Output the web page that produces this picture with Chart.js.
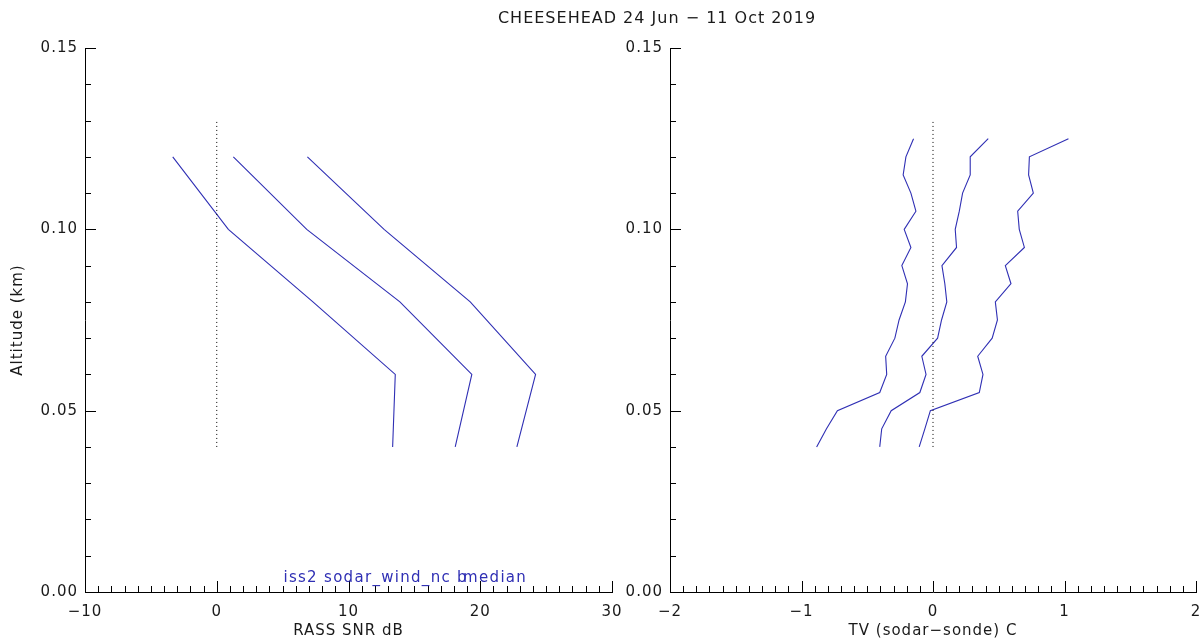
<!DOCTYPE html>
<html><head><meta charset="utf-8">
<script src="https://cdn.jsdelivr.net/npm/chart.js@4.4.1/dist/chart.umd.min.js"></script>
<style>
html,body{margin:0;padding:0;background:#fff;}
#wrap{position:relative;width:1203px;height:641px;background:#fff;}
canvas{position:absolute;left:0;top:0;}
</style></head><body>
<div id="wrap"><canvas id="c1" width="1203" height="641"></canvas><canvas id="c2" width="1203" height="641"></canvas></div>
<script>
// ---------- data ----------
const figTitle = 'CHEESEHEAD 24 Jun \u2212 11 Oct 2019';
const leftXTitle = 'RASS SNR dB';
const rightXTitle = 'TV (sodar\u2212sonde) C';
const yTitle = 'Altitude (km)';
const noteText1 = 'iss2 sodar_wind_nc b';
const noteText2 = 'median';

const snrAlt = [0.12, 0.10, 0.08, 0.06, 0.04];
const snrLow = [-3.34, 0.88, 7.3, 13.55, 13.35];
const snrMid = [1.26, 6.83, 13.9, 19.36, 18.1];
const snrHigh = [6.88, 12.7, 19.24, 24.2, 22.78];

const tvAlt = [0.125, 0.12, 0.115, 0.11, 0.105, 0.10, 0.095, 0.09, 0.085, 0.08, 0.075, 0.07, 0.065, 0.06, 0.055, 0.05, 0.045, 0.04];
const tvLow = [-0.148, -0.206, -0.227, -0.168, -0.130, -0.219, -0.168, -0.237, -0.194, -0.21, -0.258, -0.29, -0.36, -0.352, -0.405, -0.727, -0.81, -0.885];
const tvMid = [0.42, 0.283, 0.283, 0.225, 0.20, 0.169, 0.179, 0.068, 0.09, 0.105, 0.065, 0.035, -0.085, -0.053, -0.10, -0.318, -0.39, -0.405];
const tvHigh = [1.03, 0.733, 0.727, 0.763, 0.644, 0.656, 0.695, 0.55, 0.593, 0.474, 0.49, 0.45, 0.34, 0.38, 0.352, -0.02, -0.062, -0.105];

const zeroAlt = [0.04, 0.13];
const zeroVal = [0, 0];

const leftXTicks = [-10, 0, 10, 20, 30];
const rightXTicks = [-2, -1, 0, 1, 2];
const yTicks = [0.00, 0.05, 0.10, 0.15];

// ---------- helpers ----------
const LINE = '#2f2fb4';
const TEXT = '#1a1a1a';
const FONT = "'DejaVu Sans', sans-serif";
function pts(xs, ys){ return xs.map((v,i)=>({x:v, y:ys[i]})); }
function fmtX(v){ return v < 0 ? '\u2212' + Math.abs(v) : String(v); }

const spacing = {
  id:'spacing',
  beforeLayout(chart){ chart.ctx.letterSpacing = '1px'; },
  beforeDraw(chart){ chart.ctx.letterSpacing = '1px'; }
};

const inwardTicks = {
  id:'inwardTicks',
  afterDatasetsDraw(chart, args, o){
    const {ctx, chartArea:a, scales:{x, y}} = chart;
    ctx.save();
    ctx.strokeStyle = '#000'; ctx.lineWidth = 1;
    ctx.beginPath();
    for (let i = 0; i <= o.yCount; i++){
      const py = Math.round(y.getPixelForValue(y.min + i * o.yStep)) + 0.5;
      const len = (i % o.yMajor === 0) ? 11 : 6;
      ctx.moveTo(a.left, py); ctx.lineTo(a.left + len, py);
    }
    for (let i = 0; i <= o.xCount; i++){
      const px = Math.round(x.getPixelForValue(x.min + i * o.xStep)) + 0.5;
      const len = (i % o.xMajor === 0) ? 11 : 6;
      ctx.moveTo(px, a.bottom); ctx.lineTo(px, a.bottom - len);
    }
    ctx.stroke();
    ctx.restore();
  }
};

const texts = {
  id:'texts',
  afterDraw(chart, args, o){
    const {ctx, scales:{x, y}} = chart;
    ctx.save();
    (o.items || []).forEach(t => {
      ctx.letterSpacing = t.spacing || '1px';
      ctx.font = t.font;
      ctx.fillStyle = t.color;
      ctx.textAlign = t.align || 'left';
      ctx.textBaseline = t.baseline || 'alphabetic';
      const px = t.px !== undefined ? t.px : x.getPixelForValue(t.x);
      const py = t.py !== undefined ? t.py : y.getPixelForValue(t.y);
      ctx.fillText(t.text, px, py);
    });
    ctx.restore();
  }
};

function makeOptions(cfg){
  return {
    responsive:false, animation:false, devicePixelRatio:1,
    layout:{padding:{left:0, right:cfg.padRight, top:48, bottom:0}},
    plugins:{
      legend:{display:false}, tooltip:{enabled:false}, title:{display:false},
      inwardTicks: cfg.ticks,
      texts:{items: cfg.texts}
    },
    scales:{
      x:{
        type:'linear', min:cfg.xMin, max:cfg.xMax,
        afterBuildTicks(s){ s.ticks = cfg.xTicks.map(v=>({value:v})); },
        afterFit(s){ s.height = 49; s.paddingLeft = 0; s.paddingRight = 0; },
        grid:{display:false, drawTicks:false},
        border:{display:true, color:'#000', width:1},
        ticks:{padding:11, color:TEXT, font:{family:FONT, size:15}, callback:v=>fmtX(v), maxRotation:0, autoSkip:false},
        title:{display:true, text:cfg.xTitle, color:TEXT, font:{family:FONT, size:15}, padding:{top:0, bottom:1}}
      },
      y:{
        type:'linear', min:0, max:0.15,
        afterBuildTicks(s){ s.ticks = yTicks.map(v=>({value:v})); },
        afterFit(s){ s.width = cfg.yWidth; s.paddingTop = 0; s.paddingBottom = 0; },
        grid:{display:false, drawTicks:false},
        border:{display:true, color:'#000', width:1},
        ticks:{padding:7, color:TEXT, font:{family:FONT, size:15}, callback:v=>v.toFixed(2), autoSkip:false},
        title:{display:cfg.yTitle !== '', text:cfg.yTitle, color:TEXT, font:{family:FONT, size:15}, padding:{top:9, bottom:0}}
      }
    }
  };
}

function lineDs(data){ return {data, borderColor:LINE, borderWidth:1.1, pointRadius:0, showLine:true, fill:false, tension:0}; }
function zeroDs(){ return {data:pts(zeroVal, zeroAlt), borderColor:'#000', borderWidth:1, borderDash:[1,3], pointRadius:0, showLine:true, fill:false}; }

new Chart(document.getElementById('c1'), {
  type:'scatter',
  data:{datasets:[ zeroDs(), lineDs(pts(snrLow, snrAlt)), lineDs(pts(snrMid, snrAlt)), lineDs(pts(snrHigh, snrAlt)) ]},
  options: makeOptions({
    padRight:591, yWidth:85, xMin:-10, xMax:30, xTicks:leftXTicks, xTitle:leftXTitle, yTitle:yTitle,
    ticks:{yStep:0.01, yCount:15, yMajor:5, xStep:1, xCount:40, xMajor:10},
    texts:[
      {text:figTitle, px:657, py:19, font:"16px 'DejaVu Sans', sans-serif", color:TEXT, align:'center', baseline:'middle'},
      {text:noteText1, x:5.06, y:0.0028, font:"15px 'DejaVu Sans', sans-serif", color:LINE, spacing:'1.3px'},
      {text:noteText2, x:18.7, y:0.0028, font:"15px 'DejaVu Sans', sans-serif", color:LINE, spacing:'1.3px'}
    ]
  }),
  plugins:[spacing, inwardTicks, texts]
});

new Chart(document.getElementById('c2'), {
  type:'scatter',
  data:{datasets:[ zeroDs(), lineDs(pts(tvLow, tvAlt)), lineDs(pts(tvMid, tvAlt)), lineDs(pts(tvHigh, tvAlt)) ]},
  options: makeOptions({
    padRight:7, yWidth:670, xMin:-2, xMax:2, xTicks:rightXTicks, xTitle:rightXTitle, yTitle:'',
    ticks:{yStep:0.01, yCount:15, yMajor:5, xStep:0.1, xCount:40, xMajor:10},
    texts:[]
  }),
  plugins:[spacing, inwardTicks, texts]
});
</script>
</body></html>
